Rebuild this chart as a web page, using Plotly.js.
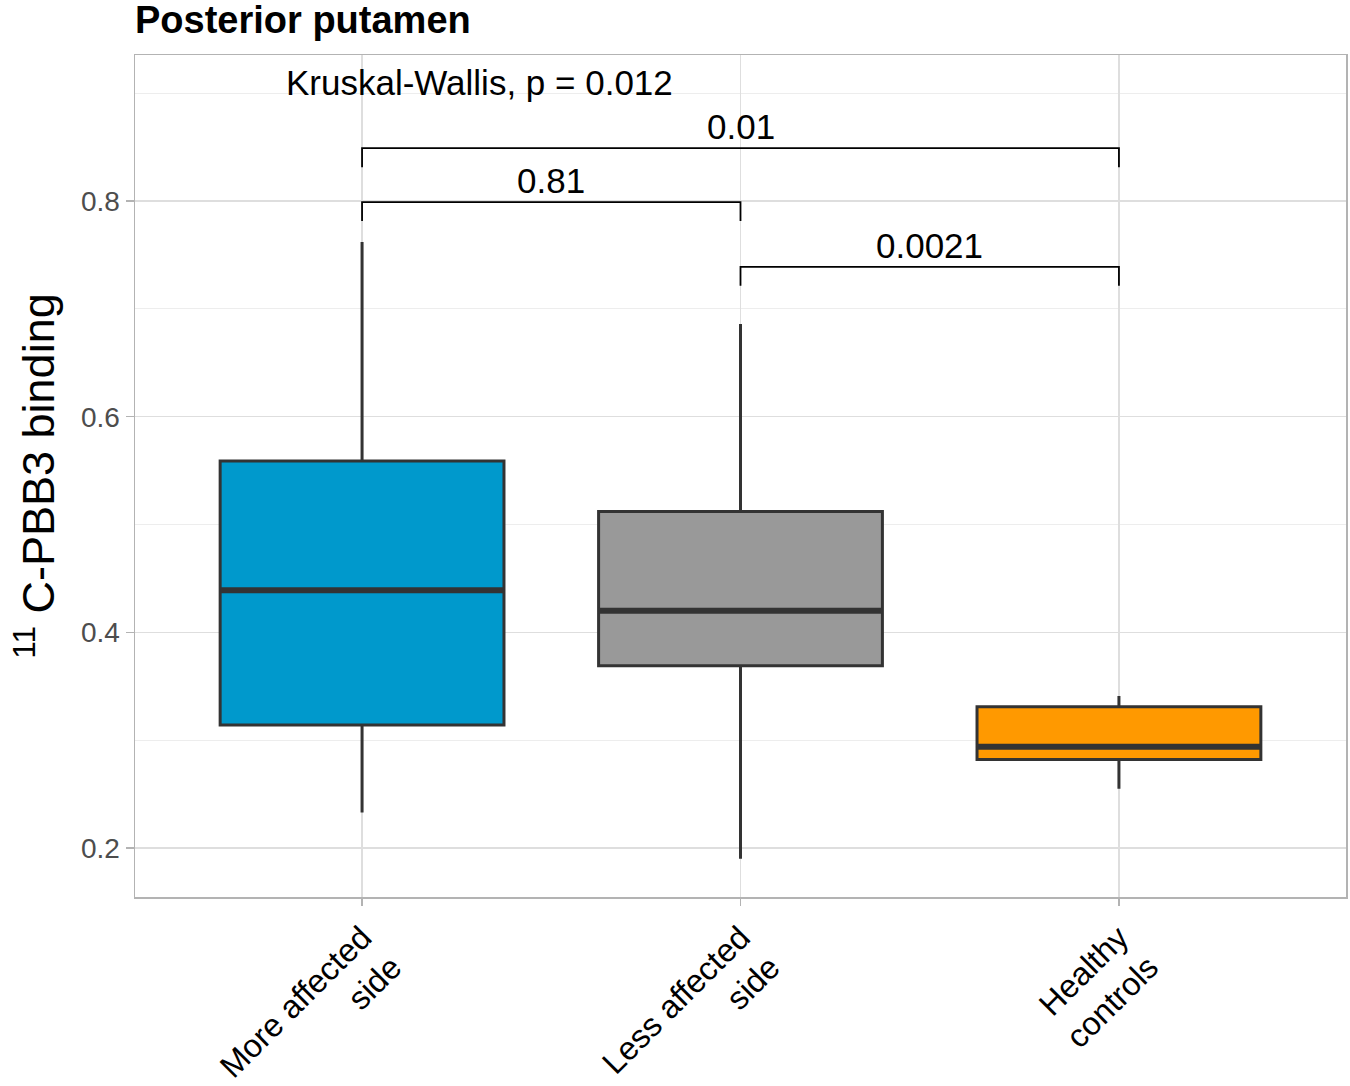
<!DOCTYPE html>
<html>
<head>
<meta charset="utf-8">
<script src="https://cdn.plot.ly/plotly-3.0.1.min.js"></script>
<style>html,body{margin:0;padding:0;background:#fff;}#chart{width:1350px;height:1086px;}</style>
</head>
<body>
<div id="chart"></div>
<script>
// ---- data ----
const categories = ["More affected<br>side", "Less affected<br>side", "Healthy<br>controls"];
const lowerWhisker = [0.233, 0.190, 0.255];
const q1Values = [0.314, 0.369, 0.282];
const medianValues = [0.439, 0.420, 0.294];
const q3Values = [0.559, 0.512, 0.331];
const upperWhisker = [0.762, 0.686, 0.341];
const fillColors = ["#0099CC", "#999999", "#FF9900"];

const compFrom = [0, 0, 1];
const compTo = [2, 1, 2];
const compLabels = ["0.01", "0.81", "0.0021"];
const compY = [0.849, 0.799, 0.739];

const kwLabel = "Kruskal-Wallis, p = 0.012";
const kwPos = [0.31, 0.910];

const titleText = "Posterior putamen";
const yTitleText = "<sup>11</sup> C-PBB3 binding";
const yTicks = [0.2, 0.4, 0.6, 0.8];
const yMinorTicks = [0.3, 0.5, 0.7, 0.9];

// ---- build ----
const FONT = "Liberation Sans, Arial, Helvetica, sans-serif";
const boxWidth = 0.75;
const drop = 0.0176;

const traces = categories.map((c, i) => ({
  type: "box",
  x: [c],
  q1: [q1Values[i]],
  median: [medianValues[i]],
  q3: [q3Values[i]],
  lowerfence: [lowerWhisker[i]],
  upperfence: [upperWhisker[i]],
  fillcolor: fillColors[i],
  line: {color: "#333333", width: 3},
  whiskerwidth: 0,
  width: boxWidth,
  boxpoints: false,
  hoverinfo: "skip",
  showlegend: false
}));

const shapes = [];
// thicker median lines (ggplot style)
medianValues.forEach((m, i) => {
  shapes.push({type: "line", xref: "x", yref: "y", x0: i - boxWidth / 2, x1: i + boxWidth / 2,
    y0: m, y1: m, line: {color: "#333333", width: 6}});
});
// comparison brackets
const annotations = [];
compFrom.forEach((f, k) => {
  const t = compTo[k], y = compY[k];
  shapes.push({type: "path", xref: "x", yref: "y",
    path: `M ${f} ${y - drop} L ${f} ${y} L ${t} ${y} L ${t} ${y - drop}`,
    line: {color: "#000000", width: 1.8}});
  annotations.push({xref: "x", yref: "y", x: (f + t) / 2, y: y, yanchor: "bottom", yshift: 0,
    text: compLabels[k], showarrow: false, font: {family: FONT, size: 35, color: "#000"}});
});
annotations.push({xref: "x", yref: "y", x: kwPos[0], y: kwPos[1], yanchor: "middle",
  text: kwLabel, showarrow: false, font: {family: FONT, size: 35, color: "#000"}});

const layout = {
  width: 1350, height: 1086,
  margin: {l: 135, r: 4, t: 55, b: 189},
  paper_bgcolor: "#ffffff", plot_bgcolor: "#ffffff",
  font: {family: FONT},
  title: {text: "<b>" + titleText + "</b>", font: {family: FONT, size: 38, color: "#000"},
    xref: "paper", x: 0, xanchor: "left", yref: "container", y: 0.982, yanchor: "middle"},
  boxmode: "overlay",
  xaxis: {
    type: "category", range: [-0.6, 2.6], fixedrange: true,
    showgrid: true, gridcolor: "#DEDEDE", gridwidth: 1.3,
    showline: true, linecolor: "#B3B3B3", linewidth: 1.5, mirror: true,
    ticks: "outside", ticklen: 7, tickcolor: "#B3B3B3", tickwidth: 1.5,
    tickangle: -45, tickfont: {family: FONT, size: 32.5, color: "#000"},
    zeroline: false
  },
  yaxis: {
    range: [0.1546, 0.9354], fixedrange: true,
    tickmode: "array", tickvals: yTicks, ticktext: yTicks.map(v => v.toFixed(1)),
    showgrid: true, gridcolor: "#DEDEDE", gridwidth: 1.3,
    minor: {tickmode: "array", tickvals: yMinorTicks, showgrid: true, gridcolor: "#EBEBEB", gridwidth: 0.9, ticks: ""},
    showline: true, linecolor: "#B3B3B3", linewidth: 1.5, mirror: true,
    ticks: "outside", ticklen: 8, tickcolor: "#B3B3B3", tickwidth: 1.5,
    tickfont: {family: FONT, size: 28, color: "#4D4D4D"},
    zeroline: false,
    title: {text: yTitleText, font: {family: FONT, size: 45, color: "#000"}, standoff: 12}
  },
  shapes: shapes,
  annotations: annotations
};

Plotly.newPlot("chart", traces, layout, {displayModeBar: false, staticPlot: true});
</script>
</body>
</html>
